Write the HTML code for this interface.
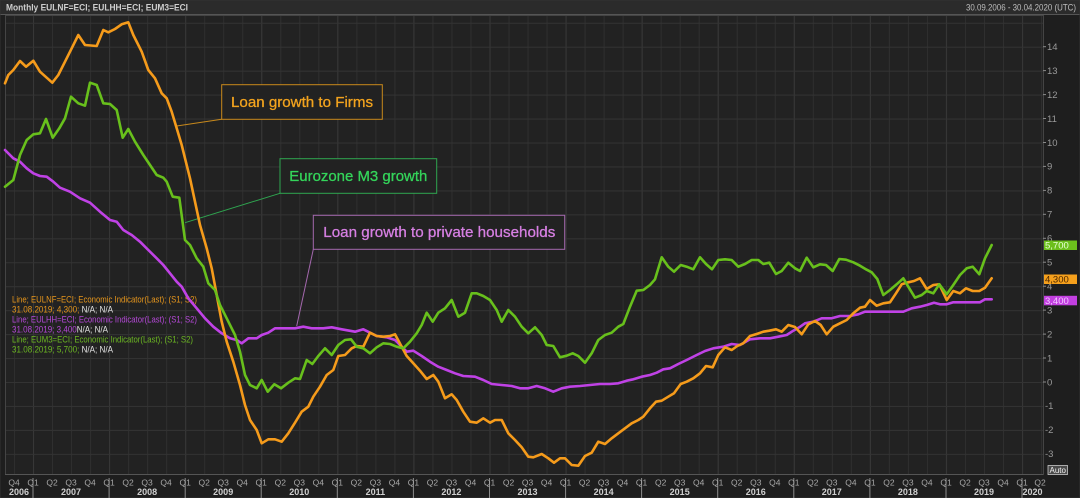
<!DOCTYPE html>
<html><head><meta charset="utf-8">
<style>
html,body{margin:0;padding:0;background:#1e1e1e;}
svg{display:block;}
text{font-family:"Liberation Sans",sans-serif;}
</style></head><body>
<svg width="1080" height="498" viewBox="0 0 1080 498" xmlns="http://www.w3.org/2000/svg">
<defs>
<pattern id="vq" patternUnits="userSpaceOnUse" x="33" y="0" width="19.02" height="498">
<rect x="0" y="0" width="1" height="498" fill="#2f2f2f"/>
</pattern>
<pattern id="vy" patternUnits="userSpaceOnUse" x="33" y="0" width="76.08" height="498">
<rect x="0" y="0" width="1" height="498" fill="#373737"/>
</pattern>
<pattern id="hg" patternUnits="userSpaceOnUse" x="0" y="382" width="1080" height="23.95">
<rect x="0" y="0" width="1080" height="1" fill="#333333"/>
</pattern>
</defs>
<rect x="0" y="0" width="1080" height="498" fill="#1e1e1e"/>
<rect x="0" y="0" width="1080" height="14" fill="#2b2b2b"/>
<rect x="0" y="14" width="1080" height="1" fill="#555"/>
<rect x="5" y="15" width="1038" height="459" fill="#222222"/>
<rect x="5" y="15" width="1038" height="459" fill="url(#vq)"/>
<rect x="5" y="15" width="1038" height="459" fill="url(#vy)"/>
<rect x="5" y="15" width="1038" height="459" fill="url(#hg)"/>
<rect x="5.5" y="15.5" width="1038" height="459" fill="none" stroke="#444" stroke-width="1"/>
<rect x="0" y="0" width="1080" height="498" fill="none" stroke="#333" stroke-width="1"/>

<text x="6" y="10.5" font-size="9" font-weight="bold" fill="#cfcfcf" textLength="182" lengthAdjust="spacingAndGlyphs">Monthly EULNF=ECI; EULHH=ECI; EUM3=ECI</text>
<text x="966" y="10.5" font-size="9" fill="#bdbdbd" textLength="110" lengthAdjust="spacingAndGlyphs">30.09.2006 - 30.04.2020 (UTC)</text>

<g font-size="9.5" fill="#9a9a9a">
<text x="1047" y="50">14</text>
<text x="1047" y="74">13</text>
<text x="1047" y="98">12</text>
<text x="1047" y="121.8">11</text>
<text x="1047" y="145.8">10</text>
<text x="1047" y="169.7">9</text>
<text x="1047" y="193.7">8</text>
<text x="1047" y="217.6">7</text>
<text x="1047" y="241.6">6</text>
<text x="1047" y="265.5">5</text>
<text x="1047" y="289.5">4</text>
<text x="1047" y="313.4">3</text>
<text x="1047" y="337.4">2</text>
<text x="1047" y="361.3">1</text>
<text x="1047" y="385.3">0</text>
<text x="1045" y="409.2">-1</text>
<text x="1045" y="433.2">-2</text>
<text x="1045" y="457.1">-3</text>
</g>
<g stroke="#8a8a8a" stroke-width="1">
<line x1="1043" y1="46.7" x2="1046" y2="46.7"/><line x1="1043" y1="70.6" x2="1046" y2="70.6"/>
<line x1="1043" y1="94.6" x2="1046" y2="94.6"/><line x1="1043" y1="118.5" x2="1046" y2="118.5"/>
<line x1="1043" y1="142.5" x2="1046" y2="142.5"/><line x1="1043" y1="166.4" x2="1046" y2="166.4"/>
<line x1="1043" y1="190.4" x2="1046" y2="190.4"/><line x1="1043" y1="214.3" x2="1046" y2="214.3"/>
<line x1="1043" y1="238.3" x2="1046" y2="238.3"/><line x1="1043" y1="262.2" x2="1046" y2="262.2"/>
<line x1="1043" y1="286.2" x2="1046" y2="286.2"/><line x1="1043" y1="310.1" x2="1046" y2="310.1"/>
<line x1="1043" y1="334.1" x2="1046" y2="334.1"/><line x1="1043" y1="358" x2="1046" y2="358"/>
<line x1="1043" y1="382" x2="1046" y2="382"/>
</g>

<rect x="1044" y="240.5" width="33" height="9.5" fill="#6cbf1c"/>
<text x="1045" y="248.5" font-size="9.5" fill="#e8ffd8">5,700</text>
<rect x="1044" y="274.5" width="33" height="9.5" fill="#f5a01c"/>
<text x="1045" y="282.5" font-size="9.5" fill="#4a2600">4,300</text>
<rect x="1044" y="295.8" width="33" height="9.5" fill="#c23fe0"/>
<text x="1045" y="303.8" font-size="9.5" fill="#f2c8ff">3,400</text>

<rect x="1048" y="465.5" width="19.5" height="9" fill="#4a4a4a" stroke="#c8c8c8" stroke-width="0.8"/>
<text x="1049.5" y="473" font-size="8" fill="#f0f0f0" textLength="16.5" lengthAdjust="spacingAndGlyphs">Auto</text>

<rect x="5" y="474" width="1038" height="1" fill="#555"/>
<g stroke="#8c8c8c" stroke-width="1">
<line x1="33" y1="478" x2="33" y2="498"/><line x1="109.1" y1="478" x2="109.1" y2="498"/>
<line x1="185.2" y1="478" x2="185.2" y2="498"/><line x1="261.2" y1="478" x2="261.2" y2="498"/>
<line x1="337.3" y1="478" x2="337.3" y2="498"/><line x1="413.4" y1="478" x2="413.4" y2="498"/>
<line x1="489.5" y1="478" x2="489.5" y2="498"/><line x1="565.6" y1="478" x2="565.6" y2="498"/>
<line x1="641.6" y1="478" x2="641.6" y2="498"/><line x1="717.7" y1="478" x2="717.7" y2="498"/>
<line x1="793.8" y1="478" x2="793.8" y2="498"/><line x1="869.9" y1="478" x2="869.9" y2="498"/>
<line x1="946" y1="478" x2="946" y2="498"/><line x1="1022" y1="478" x2="1022" y2="498"/>
</g>
<g font-size="8.5" fill="#a8a8a8" text-anchor="middle">
<text x="14" y="485.5">Q4</text>
<text x="33" y="485.5">Q1</text><text x="52" y="485.5">Q2</text><text x="71" y="485.5">Q3</text><text x="90.1" y="485.5">Q4</text>
<text x="109.1" y="485.5">Q1</text><text x="128.1" y="485.5">Q2</text><text x="147.1" y="485.5">Q3</text><text x="166.1" y="485.5">Q4</text>
<text x="185.2" y="485.5">Q1</text><text x="204.2" y="485.5">Q2</text><text x="223.2" y="485.5">Q3</text><text x="242.2" y="485.5">Q4</text>
<text x="261.2" y="485.5">Q1</text><text x="280.3" y="485.5">Q2</text><text x="299.3" y="485.5">Q3</text><text x="318.3" y="485.5">Q4</text>
<text x="337.3" y="485.5">Q1</text><text x="356.3" y="485.5">Q2</text><text x="375.4" y="485.5">Q3</text><text x="394.4" y="485.5">Q4</text>
<text x="413.4" y="485.5">Q1</text><text x="432.4" y="485.5">Q2</text><text x="451.4" y="485.5">Q3</text><text x="470.5" y="485.5">Q4</text>
<text x="489.5" y="485.5">Q1</text><text x="508.5" y="485.5">Q2</text><text x="527.5" y="485.5">Q3</text><text x="546.5" y="485.5">Q4</text>
<text x="565.6" y="485.5">Q1</text><text x="584.6" y="485.5">Q2</text><text x="603.6" y="485.5">Q3</text><text x="622.6" y="485.5">Q4</text>
<text x="641.6" y="485.5">Q1</text><text x="660.7" y="485.5">Q2</text><text x="679.7" y="485.5">Q3</text><text x="698.7" y="485.5">Q4</text>
<text x="717.7" y="485.5">Q1</text><text x="736.7" y="485.5">Q2</text><text x="755.8" y="485.5">Q3</text><text x="774.8" y="485.5">Q4</text>
<text x="793.8" y="485.5">Q1</text><text x="812.8" y="485.5">Q2</text><text x="831.8" y="485.5">Q3</text><text x="850.9" y="485.5">Q4</text>
<text x="869.9" y="485.5">Q1</text><text x="888.9" y="485.5">Q2</text><text x="907.9" y="485.5">Q3</text><text x="926.9" y="485.5">Q4</text>
<text x="946" y="485.5">Q1</text><text x="965" y="485.5">Q2</text><text x="984" y="485.5">Q3</text><text x="1003" y="485.5">Q4</text>
<text x="1022" y="485.5">Q1</text><text x="1040" y="485.5">Q2</text>
</g>
<g font-size="9" font-weight="bold" fill="#cfcfcf" text-anchor="middle">
<text x="19" y="495">2006</text><text x="71" y="495">2007</text><text x="147.1" y="495">2008</text>
<text x="223.2" y="495">2009</text><text x="299.3" y="495">2010</text><text x="375.4" y="495">2011</text>
<text x="451.4" y="495">2012</text><text x="527.5" y="495">2013</text><text x="603.6" y="495">2014</text>
<text x="679.7" y="495">2015</text><text x="755.8" y="495">2016</text><text x="831.8" y="495">2017</text>
<text x="907.9" y="495">2018</text><text x="984" y="495">2019</text><text x="1032.5" y="495">2020</text>
</g>

<!-- annotations -->
<line x1="221.7" y1="119.3" x2="176.7" y2="126" stroke="#c8891c" stroke-width="1"/>
<rect x="221.7" y="84.7" width="160.6" height="34.6" fill="#222" stroke="#c8891c" stroke-width="1"/>
<text x="231" y="107" font-size="15" fill="#f2a31e" stroke="#f2a31e" stroke-width="0.3" textLength="142" lengthAdjust="spacingAndGlyphs">Loan growth to Firms</text>

<line x1="280" y1="193.3" x2="185" y2="222.7" stroke="#2fa650" stroke-width="1"/>
<rect x="280" y="158.7" width="156.7" height="34.6" fill="#222" stroke="#2fa650" stroke-width="1"/>
<text x="289.3" y="181" font-size="15" fill="#34d45a" stroke="#34d45a" stroke-width="0.3" textLength="138" lengthAdjust="spacingAndGlyphs">Eurozone M3 growth</text>

<line x1="313.3" y1="249.3" x2="296.7" y2="326" stroke="#a468ae" stroke-width="1"/>
<rect x="313.3" y="215.3" width="251.4" height="34" fill="#222" stroke="#a468ae" stroke-width="1"/>
<text x="323.3" y="237" font-size="15" fill="#d67fe2" stroke="#d67fe2" stroke-width="0.3" textLength="232" lengthAdjust="spacingAndGlyphs">Loan growth to private households</text>

<!-- legend -->
<g font-size="9.5">
<text x="12" y="302.5" fill="#e6961c" textLength="185" lengthAdjust="spacingAndGlyphs">Line; EULNF=ECI; Economic Indicator(Last); (S1; S2)</text>
<text x="12" y="312.5" textLength="101" lengthAdjust="spacingAndGlyphs"><tspan fill="#e6961c">31.08.2019; 4,300; </tspan><tspan fill="#e4e4e4">N/A; N/A</tspan></text>
<text x="12" y="322.5" fill="#b548d8" textLength="185" lengthAdjust="spacingAndGlyphs">Line; EULHH=ECI; Economic Indicator(Last); (S1; S2)</text>
<text x="12" y="332.5" textLength="96" lengthAdjust="spacingAndGlyphs"><tspan fill="#b548d8">31.08.2019; 3,400</tspan><tspan fill="#e4e4e4">N/A; N/A</tspan></text>
<text x="12" y="342.5" fill="#6cb822" textLength="181" lengthAdjust="spacingAndGlyphs">Line; EUM3=ECI; Economic Indicator(Last); (S1; S2)</text>
<text x="12" y="352.5" textLength="101" lengthAdjust="spacingAndGlyphs"><tspan fill="#6cb822">31.08.2019; 5,700; </tspan><tspan fill="#e4e4e4">N/A; N/A</tspan></text>
</g>

<!-- series -->
<g fill="none" stroke-width="2.6" stroke-linejoin="round" stroke-linecap="round">
<polyline stroke="#c042e6" points="5,150 13.3,158.3 20,161.7 26.7,168.3 33.3,173.3 40,176 46.7,176.7 53.3,181.7 60,187.7 70,191.7 80,198.3 90,202.7 100,211.7 110,220 116.7,221.7 123.3,230 131.7,235 140,241.7 148.3,250 156.7,258.3 163.3,265 170,273.3 176.7,281.7 181.7,286.7 188.3,298.3 196.7,308.3 205,318.3 213.3,326.7 221.7,333.3 230,338.3 236.7,340 241.7,343.3 248.3,338.3 256.7,338.3 261.7,335 268.3,332.7 275,328.3 285,328.3 295,328.3 303.3,326.7 311.7,328.3 323.3,328.3 331.7,327.3 341.7,329.3 355,331.7 363.3,329.3 370,332.7 376.7,336 386.7,337.3 395,340 401.7,346.7 406.7,351.7 413.3,350.7 421.7,356 430,361.7 438.3,366.7 446.7,370 455,373.3 463.3,376 475,376.7 483.3,380 491.7,384 501.7,385 511.7,386 520,388.3 528.3,388.3 536.7,386 545,388.3 553.3,391.7 561.7,388.3 570,386.7 580,386 590,385 600,384 610,384 618.3,383.3 626.7,380.7 633.3,379.3 641.7,376.7 650,375 656.7,372.7 663.3,369.3 670,368.3 678.3,364 686.7,360 696.7,355 705,351 713.3,348.3 723.3,346.7 731.7,344 740,345 750,339.3 760,338.3 770,338.3 778.3,336.7 786.7,335 793.3,330.7 799.3,327.3 805,323.3 813.3,321.7 821.7,318.3 831.7,318.3 840,316 850,316 858.3,314.3 865,311.7 875,311.7 885,311.7 895,311.7 903.3,311.7 911.7,308.3 920,306.7 926.7,305 934,302.7 940,304.3 946.7,304.3 953.3,302.3 961.7,302.3 971.7,302.3 980,302.3 985,299.3 991.7,299.3"/>
<polyline stroke="#f59b1b" points="5,83.3 8.3,75 13.3,70 20,61 26,66.7 33.3,60.7 40,71.7 52.3,82.7 58.3,75 65,61.7 71.7,48.3 78.3,35 85,45 96.7,46 103.3,30 108.3,32.3 115,29 121.7,24.3 128.3,22.3 133.3,35 141.7,51.7 148.3,70 155,78.3 161.7,93.3 166.7,98.3 171.7,111.7 176.7,128.3 181.7,145 185,158.3 190,178.3 195,201.7 200,225 206.7,248.3 211.7,268.3 216.7,295 221.7,321.7 226.7,341.7 233.3,361.7 240,385 245,405 250,420 256.7,430 261.7,443.3 268.3,439.3 275,439.3 281.7,441.7 288.3,433.3 295,422.7 301.7,411.7 308.3,406.7 313.3,396.7 320,386.7 326.7,375 333.3,370 338.3,356 345,355 351.7,348.3 356.7,346 363.3,346.7 370,332.7 376.7,336 383.3,336.7 390,336 395,334.3 401.7,346.7 406.7,356 413.3,363.3 420,370.7 426.7,379 433.3,375 438.3,381.7 445,398.3 451.7,394.3 456.7,400 463.3,411.7 470,421.7 476.7,422.7 483.3,418.3 490,422.7 495,420 501.7,420 508.3,433.3 515,440 521.7,447.3 528.3,456.7 533.3,457.3 541.7,454 548.3,458.3 554,462.7 560,458.3 565,458.3 571.7,465 578.3,465.7 585,456 591.7,452.7 598.3,441.7 605,444 611.7,438.3 618.3,433.3 625,428.3 631.7,423.3 638.3,420 643.3,416.7 650,408.3 656,401.7 661.7,400.7 668.3,396.7 674,393.3 680.7,384 686.7,381.7 693.3,378.3 700,373.3 706,366 712.7,367.3 718.3,355 725,347.3 731.7,350 737.3,346 743.3,343.3 750,336 756.7,334 763.3,331.7 769.3,330.7 776,329.3 781.7,331.7 788.3,325 795,327 801.7,334.3 808.3,324.3 815,321 820.7,325 826.7,334.3 833.3,326.7 840,323.3 846.7,320 853.3,313.3 860,307.7 865,306.7 870,300 876.7,305.7 883.3,303.3 890,302.3 896,293.3 901.7,284.3 908.3,282.3 914,281 920,278.3 926.7,289 933.3,285 939.3,284.3 946.7,300 953.3,291 960,293.3 966,288.3 972.7,291 979.3,291 985,287.7 991.7,278.3"/>
<polyline stroke="#68c01c" points="5,186.7 13.3,180 20,155 26.7,140 33.3,134.3 40,133.3 46,119 52.7,137.7 59.3,128.3 65,118.3 71,96.7 78.3,103.3 85,105.7 90,82.7 96.7,85 103.3,103.3 110,104 116.7,110 122.7,137.7 128.3,129 135,141.7 143.3,155 150,165 156.7,175 163.3,177.7 166.7,181.7 172.7,196.7 179.3,197.7 185,240 190,245 196.7,258.3 203.3,266.7 208.3,283.3 215,290 220,305 226.7,318.3 235,335 240,351.7 245,375 250,385 256.7,388.3 261.7,380 267.7,391.7 274.3,384.3 281,388.3 288.3,382.7 295,378.3 300,379 306.7,360 312.3,364 318.3,356 325,348.3 331.7,355 338.3,345 345,340 351,339.3 356.7,346.7 363.3,348.3 370,353.3 376.7,347.3 383.3,343.3 390,344 396.7,346.7 403.3,348.3 410,341.7 416.7,333.3 421.7,325 426.7,312.7 432.7,321.7 438.3,312.7 445,308.3 451.7,300 458.3,316.7 465,312.7 471.7,293.3 476.7,293.3 483.3,296 490,300 496.7,310 501.7,321.7 508.3,310 515,316.7 521.7,326.7 528.3,333.3 535,327.3 541.7,335 546.7,345 553.3,346 560,357.3 566.7,355.7 572.7,353.3 578.3,356 585,362.7 591.7,353.3 598.3,340 605,335 611.7,332.7 618.3,326.7 623.3,324 630,306.7 636.7,290.7 643.3,290 650,285 655,279.3 661.7,257.3 668.3,266.7 674,271.7 680.7,265 686.7,266.7 693.3,269.3 700,257.3 706,264 712,269.3 718.3,260 725,259.3 731.7,260 738.3,266.7 745,264 751.7,260 758.3,260 763.3,264 769.3,262.7 776,274 781.7,271 788.3,262.7 795,268.3 800,271 806.7,257.7 813.3,267.3 820,264.3 826,265 832.7,271 839.3,259 846,259.7 853.3,262.3 860,265.7 866.7,269.7 871.7,272.3 877.3,279 883.3,295 890,290 896.7,284.3 903.3,278.3 908.3,286.7 915,297.7 921.7,295 926.7,291 933.3,293.3 939.3,284.3 946.7,294.3 953.3,285 960,275 966.7,268.3 972.7,266.7 979.3,274.3 985,258.3 991.7,245"/>
</g>
</svg>
</body></html>
